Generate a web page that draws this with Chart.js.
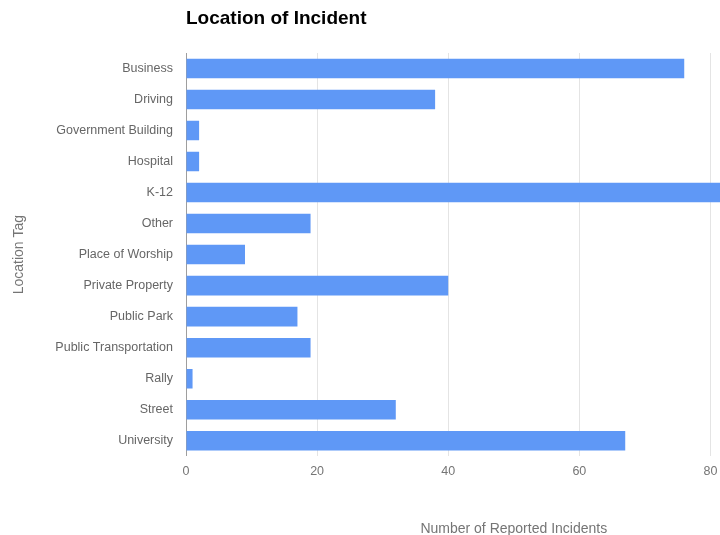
<!DOCTYPE html>
<html>
<head>
<meta charset="utf-8">
<script src="https://cdn.jsdelivr.net/npm/chart.js@4"></script>
<style>
  html, body { margin: 0; padding: 0; background: #fff; overflow: hidden; }
  #wrap { width: 720px; height: 535px; overflow: hidden; }
</style>
</head>
<body>
<div id="wrap">
  <div style="width:860px;height:535px;position:relative">
    <canvas id="chart"></canvas>
  </div>
</div>
<script>
// categories and counts
const locations = ["Business", "Driving", "Government Building", "Hospital", "K-12", "Other",
  "Place of Worship", "Private Property", "Public Park", "Public Transportation", "Rally",
  "Street", "University"];
const incidents = [76, 38, 2, 2, 85, 19, 9, 40, 17, 19, 1, 32, 67];
const xTicks = [0, 20, 40, 60, 80, 100];

// title sits over the left edge of the plot, not the canvas
const titlePlugin = {
    id: "leftTitle",
    afterDraw(chart) {
        const c = chart.ctx;
        c.save();
        c.font = "bold 19px 'Liberation Sans', Arial, sans-serif";
        c.fillStyle = "#000";
        c.textBaseline = "middle";
        c.fillText("Location of Incident", chart.chartArea.left, 19);
        c.restore();
    }
};

const ctx = document.getElementById("chart").getContext("2d");
new Chart(ctx, {
    type: "bar",
    data: {
        labels: locations,
        datasets: [{
            label: "Incidents",
            data: incidents,
            backgroundColor: "#5f98f6",
            borderWidth: 0,
            categoryPercentage: 1,
            barPercentage: 0.63
        }]
    },
    options: {
        indexAxis: "y",
        responsive: true,
        maintainAspectRatio: false,
        animation: false,
        layout: { padding: { top: 53, right: 6, left: 11, bottom: 0 } },
        plugins: {
            legend: { display: false },
            tooltip: { enabled: false }
        },
        scales: {
            x: {
                min: 0,
                max: 100,
                afterBuildTicks: (scale) => { scale.ticks = xTicks.map(v => ({ value: v })); },
                border: { display: false },
                grid: {
                    drawTicks: false,
                    color: (c) => c.tick && c.tick.value === 0 ? "#9e9e9e" : "#e4e4e4"
                },
                ticks: {
                    padding: 8,
                    color: "#757575",
                    font: { family: "'Liberation Sans', Arial", size: 12.5 }
                },
                title: {
                    display: true,
                    text: "Number of Reported Incidents",
                    color: "#757575",
                    font: { family: "'Liberation Sans', Arial", size: 14 },
                    padding: { top: 34, bottom: -3 }
                }
            },
            y: {
                afterFit: (scale) => { scale.width = 175; },
                border: { display: false },
                grid: { display: false, drawTicks: false },
                ticks: {
                    padding: 13,
                    color: "#666666",
                    font: { family: "'Liberation Sans', Arial", size: 12.5 }
                },
                title: {
                    display: true,
                    text: "Location Tag",
                    color: "#757575",
                    font: { family: "'Liberation Sans', Arial", size: 14 },
                    padding: { top: 0, bottom: 0 }
                }
            }
        }
    },
    plugins: [titlePlugin]
});
</script>
</body>
</html>
